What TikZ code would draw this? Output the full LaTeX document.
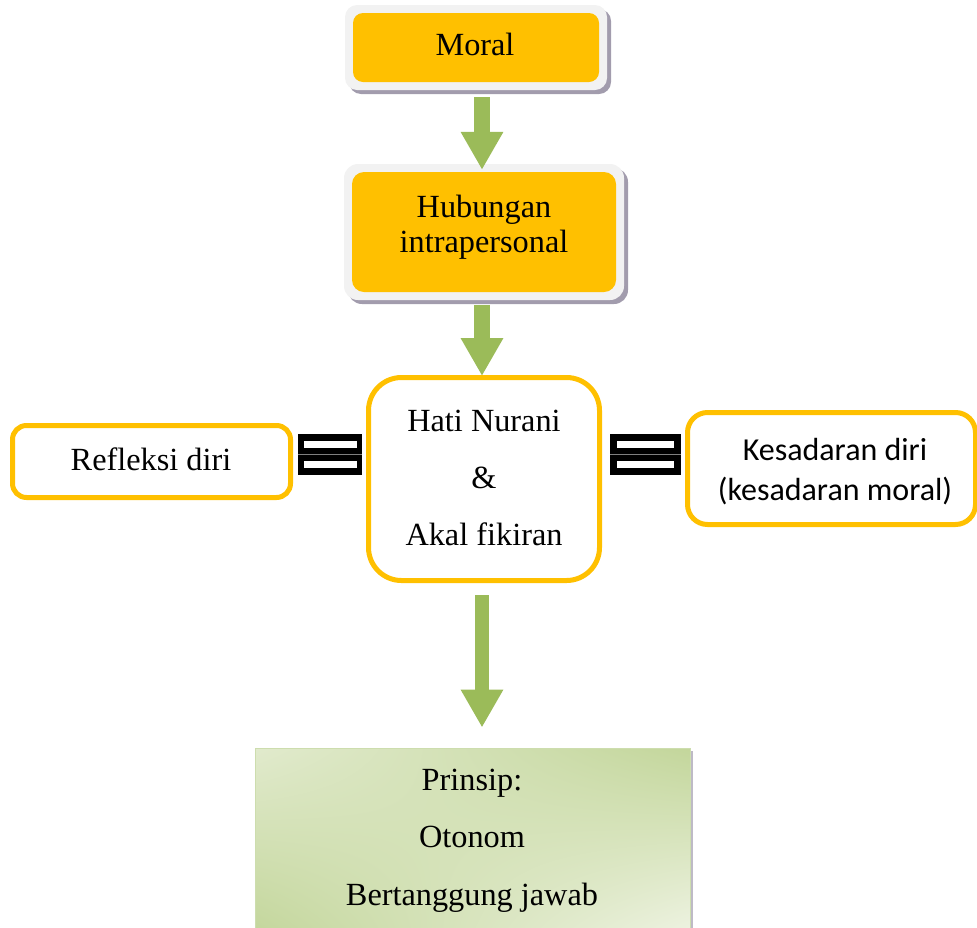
\documentclass[tikz,border=0pt]{standalone}
\usepackage{fontspec}
\setmainfont{Liberation Serif}
\newfontfamily\calib{Carlito}
\usetikzlibrary{arrows.meta,shadows,calc,shadings}
\definecolor{orng}{HTML}{FFC000}
\definecolor{frm}{HTML}{F2F2F2}
\definecolor{shd}{HTML}{A29CAD}
\definecolor{grn}{HTML}{9BBB59}
\definecolor{gdark}{HTML}{C3D69B}
\definecolor{glight}{HTML}{EEF3E2}
\definecolor{gedge}{HTML}{CDDDAE}
\begin{document}
\begin{tikzpicture}[x=1pt,y=-1pt,
  framebox/.style={fill=frm, rounded corners=12pt, inner sep=0pt,
    drop shadow={shadow xshift=4pt, shadow yshift=-4pt, fill=shd, opacity=1}},
  orangebox/.style={fill=orng, rounded corners=10pt, inner sep=0pt},
  obox/.style={draw=orng, line width=5pt, fill=white, inner sep=0pt},
  txt/.style={font=\fontsize{32.3}{38}\selectfont, inner sep=0pt, anchor=base},
  stxt/.style={font=\calib\fontsize{32}{38}\selectfont, inner sep=0pt, anchor=base},
  greenarrow/.style={draw=grn, line width=16pt, -{Triangle[width=40pt,length=38pt]}},
]
\useasboundingbox (0,0) rectangle (977,927);

% Moral
\node[framebox, minimum width=262pt, minimum height=85pt] (mframe) at (476,47.5) {};
\node[orangebox, minimum width=246pt, minimum height=69pt] (moral) at (476,47.5) {};
\node[txt] (moraltxt) at (475,55) {Moral};

% Hubungan intrapersonal
\node[framebox, rounded corners=14pt, minimum width=280pt, minimum height=136pt] (hframe) at (484,232) {};
\node[orangebox, rounded corners=12pt, minimum width=264pt, minimum height=120pt] (hub) at (484,232) {};
\node[txt] (hub1) at (484,217) {Hubungan};
\node[txt] (hub2) at (484,252) {intrapersonal};

% Hati Nurani & Akal fikiran
\node[obox, rounded corners=33pt, minimum width=231pt, minimum height=203pt] (hati) at (484,479) {};
\node[txt] (hati1) at (484,431) {Hati Nurani};
\node[txt] (hati2) at (484,488) {\&};
\node[txt] (hati3) at (484,545) {Akal fikiran};

% Refleksi diri
\node[obox, rounded corners=14pt, minimum width=278pt, minimum height=72pt] (refl) at (151.5,461.5) {};
\node[txt] (refltxt) at (151,470) {Refleksi diri};

% Kesadaran diri
\node[obox, rounded corners=20pt, minimum width=288pt, minimum height=112pt] (kes) at (831.5,468.5) {};
\node[stxt] (kes1) at (835,460) {Kesadaran diri};
\node[stxt] (kes2) at (835,500) {(kesadaran moral)};

% Prinsip
\node[draw=gedge, line width=1pt, inner sep=0pt, minimum width=435pt, minimum height=187pt,
  shade, upper left=glight!70!gdark, upper right=gdark, lower left=gdark, lower right=glight,
  drop shadow={shadow xshift=3pt, shadow yshift=-3pt, fill=shd!70, opacity=1}] (prin) at (472.5,841.5) {};
\node[txt] (prin1) at (472,790) {Prinsip:};
\node[txt] (prin2) at (472,847) {Otonom};
\node[txt] (prin3) at (472,905) {Bertanggung jawab};

% equals connectors
\fill[black] (298,434) rectangle (362,475);
\draw[gray, line width=0.6pt] (298,454.5) -- (362,454.5);
\fill[white] (304,441) rectangle (357,448);
\fill[white] (304,461) rectangle (357,468);
\fill[black] (610,434) rectangle (681,475);
\draw[gray, line width=0.6pt] (610,454.5) -- (681,454.5);
\fill[white] (617,441) rectangle (674,448);
\fill[white] (617,461) rectangle (674,468);

% arrows
\draw[greenarrow] ($(mframe.south)+(6,7)$) -- ($(hframe.north)+(-2,6)$);
\draw[greenarrow] ($(hframe.south)+(-2,5)$) -- ($(hati.north)+(-2,1)$);
\draw[greenarrow, line width=14pt] ($(hati.south)+(-2,12)$) -- ($(prin.north)+(9.5,-20)$);
\end{tikzpicture}
\end{document}
